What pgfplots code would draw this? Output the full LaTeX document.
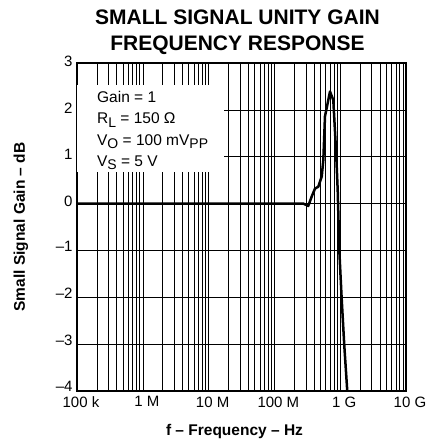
\documentclass[border=0pt]{standalone}
\usepackage{pgfplots}
\pgfplotsset{compat=1.18}
\usepackage{fontspec}
\setmainfont{Liberation Sans}

\newcommand{\lbl}{\fontsize{15}{18}\selectfont}
\newcommand{\leg}{\fontsize{15.5}{18}\selectfont}
\newcommand{\sub}[1]{\raisebox{-3.5pt}{\fontsize{14}{16}\selectfont #1}}
\newcommand{\negt}[1]{\raisebox{4.5pt}{--#1}}

\begin{document}
\begin{tikzpicture}
  \begin{axis}[
    scale only axis,
    width=329pt, height=328pt,
    xmode=log,
    xmin=1e5, xmax=1e10,
    ymin=-4, ymax=3,
    xtick={1e5,1e6,1e7,1e8,1e9,1e10},
    xticklabels={100 k,1 M,10 M,100 M,1 G,10 G},
    minor xtick={2e5,3e5,4e5,5e5,6e5,7e5,8e5,9e5,
                 2e6,3e6,4e6,5e6,6e6,7e6,8e6,9e6,
                 2e7,3e7,4e7,5e7,6e7,7e7,8e7,9e7,
                 2e8,3e8,4e8,5e8,6e8,7e8,8e8,9e8,
                 2e9,3e9,4e9,5e9,6e9,7e9,8e9,9e9},
    ytick={-4,-3,-2,-1,0,1,2,3},
    yticklabels={\negt4,\negt3,\negt2,\negt1,0,1,2,3},
    grid=both,
    major grid style={black, line width=0.6pt},
    minor grid style={black, line width=0.6pt},
    major tick length=0pt, minor tick length=0pt,
    axis line style={line width=2pt},
    /pgf/number format/assume math mode=true,
    tick label style={font=\lbl},
    xticklabel style={xshift=4pt, yshift=-2pt},
    yticklabel style={xshift=-1pt, yshift=2pt},
    clip mode=individual,
  ]
    % legend box
    \fill[white] (axis cs:1e5,0.676) rectangle (axis cs:1.71e7,2.53);
    \node[anchor=base west, font=\leg, inner sep=0pt] at (axis cs:2.01e5,2.162) {Gain = 1};
    \node[anchor=base west, font=\leg, inner sep=0pt] at (axis cs:2.01e5,1.706) {R\sub{L} = 150 Ω};
    \node[anchor=base west, font=\leg, inner sep=0pt] at (axis cs:2.01e5,1.250) {V\sub{O} = 100 mV\sub{PP}};
    \node[anchor=base west, font=\leg, inner sep=0pt] at (axis cs:2.01e5,0.794) {V\sub{S} = 5 V};

    \addplot[black, line width=2.5pt, line join=round] coordinates {
      (1e5,0) (2.75e8,0) (3.27e8,-0.05) (3.69e8,0.15) (4.14e8,0.32)
      (4.65e8,0.36) (5.24e8,0.58) (5.54e8,0.93) (5.87e8,1.86)
      (7.0e8,2.39) (7.85e8,2.21) (8.63e8,1.15) (9.16e8,0.29)
      (9.69e8,-1) (1.05e9,-2) (1.15e9,-3) (1.28e9,-4) (1.32e9,-4.5)
    };
  \end{axis}
  \node[anchor=base, font=\fontsize{21}{24}\selectfont\bfseries]
    at ([xshift=-4pt, yshift=38.5pt]current axis.north) {SMALL SIGNAL UNITY GAIN};
  \node[anchor=base, font=\fontsize{21}{24}\selectfont\bfseries]
    at ([xshift=-4pt, yshift=12.5pt]current axis.north) {FREQUENCY RESPONSE};
  \node[anchor=base, font=\fontsize{15.5}{18}\selectfont\bfseries]
    at ([xshift=-7pt, yshift=-44.5pt]current axis.south) {f -- Frequency -- Hz};
  \node[anchor=base, rotate=90, font=\fontsize{15.5}{18}\selectfont\bfseries]
    at ([xshift=-52pt]current axis.west) {Small Signal Gain -- dB};
  \pgfresetboundingbox
  \path[use as bounding box] ([shift={(-77pt,-51pt)}]current axis.south west)
    rectangle ([shift={(350pt,391pt)}]current axis.south west);
\end{tikzpicture}
\end{document}
